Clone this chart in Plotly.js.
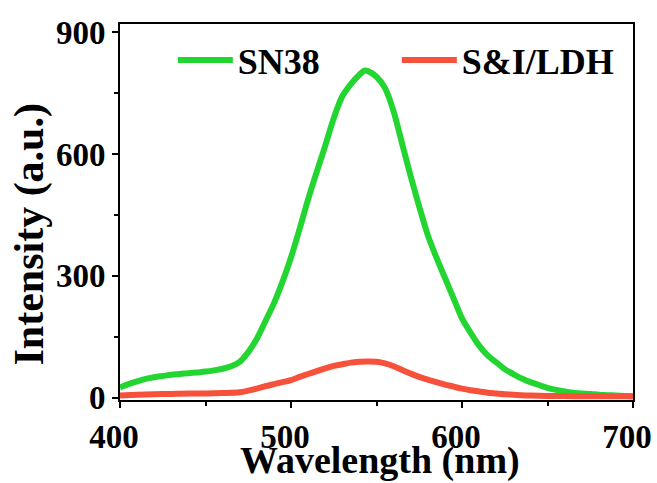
<!DOCTYPE html>
<html>
<head>
<meta charset="utf-8">
<script src="https://cdn.plot.ly/plotly-3.0.1.min.js"></script>
<style>
html,body{margin:0;padding:0;background:#fff;}
#chart{width:657px;height:483px;}
</style>
</head>
<body>
<div id="chart"></div>
<script>
// Wavelength (nm)
const wavelengthSN38 = [400,405,410,415,420,425,430,435,440,445,450,455,460,465,470,475,480,485,490,495,500,505,510,515,520,525,530,535,540,543,545,550,555,560,565,570,575,580,585,590,595,600,605,610,615,620,625,630,635,640,645,650,655,660,665,670,675,680,685,690,695,700];
const intensitySN38 = [25,33,40,46,50,53,56,58,60,62,64,67,71,77,88,112,145,188,232,285,345,415,488,555,620,688,742,772,795,805,804,790,762,705,625,545,470,400,345,295,245,195,160,128,104,87,70,58,47,38,31,24,19,15,12,10,9,7,6,5,4,3];

const wavelengthSI = [400,410,420,430,440,450,460,470,475,480,485,490,495,500,505,510,515,520,525,530,535,540,545,550,555,560,565,570,575,580,585,590,595,600,605,610,615,620,625,630,640,650,660,670,680,690,700];
const intensitySI = [5,7,8,9,10,10,11,13,17,22,28,33,38,43,51,58,65,72,78,82,86,88,89,88,84,77,68,59,51,44,38,32,27,22,18,15,12,10,8,7,5,4,4,3,3,3,3];

const seriesNames = ["SN38", "S&I/LDH"];
const xTickVals = [400, 500, 600, 700];
const yTickVals = [0, 300, 600, 900];
const xTitle = "Wavelength (nm)";
const yTitle = "Intensity (a.u.)";

const FONT = "Times New Roman, Liberation Serif, serif";

const traces = [
  {x: wavelengthSN38, y: intensitySN38, name: seriesNames[0], type: "scatter", mode: "lines",
   line: {color: "#22d530", width: 6, shape: "spline", smoothing: 0.8}},
  {x: wavelengthSI, y: intensitySI, name: seriesNames[1], type: "scatter", mode: "lines",
   line: {color: "#f7513b", width: 6, shape: "spline", smoothing: 0.8}}
];

const axisCommon = {
  showline: true, linecolor: "#000", linewidth: 2, mirror: true,
  ticks: "outside", ticklen: 6, tickwidth: 2, tickcolor: "#000",
  showgrid: false, zeroline: false,
  tickfont: {family: FONT, size: 33, color: "#000", weight: "bold"}
};

const layout = {
  width: 657, height: 483,
  margin: {l: 120, r: 24, t: 24, b: 83},
  paper_bgcolor: "#fff", plot_bgcolor: "#fff",
  font: {family: FONT, color: "#000", weight: "bold"},
  showlegend: true,
  legend: {
    orientation: "h", x: 0.103, xanchor: "left", y: 0.984, yanchor: "top",
    bgcolor: "rgba(0,0,0,0)", borderwidth: 0,
    font: {family: FONT, size: 36, color: "#000", weight: "bold"},
    itemwidth: 55, tracegroupgap: 0, entrywidth: 154
  },
  xaxis: Object.assign({}, axisCommon, {
    range: [400, 700], tickvals: xTickVals, ticktext: xTickVals.map(String),
    ticklabelshift: -6,
    minor: {ticks: "outside", tickvals: [450, 550, 650], ticklen: 4, tickwidth: 2, tickcolor: "#000"}
  }),
  yaxis: Object.assign({}, axisCommon, {
    range: [-6, 920], tickvals: yTickVals, ticktext: yTickVals.map(String),
    minor: {ticks: "outside", tickvals: [150, 450, 750], ticklen: 4, tickwidth: 2, tickcolor: "#000"}
  }),
  annotations: [
    {text: xTitle, xref: "paper", yref: "paper", x: 0.507, y: 0, xanchor: "center", yanchor: "top",
     yshift: -37, showarrow: false, font: {family: FONT, size: 38, color: "#000", weight: "bold"}},
    {text: yTitle, xref: "paper", yref: "paper", x: 0, y: 0.44, xanchor: "center", yanchor: "middle",
     xshift: -90, textangle: -90, showarrow: false, font: {family: FONT, size: 42, color: "#000", weight: "bold"}}
  ]
};

Plotly.newPlot("chart", traces, layout, {displayModeBar: false, staticPlot: true});
</script>
</body>
</html>
